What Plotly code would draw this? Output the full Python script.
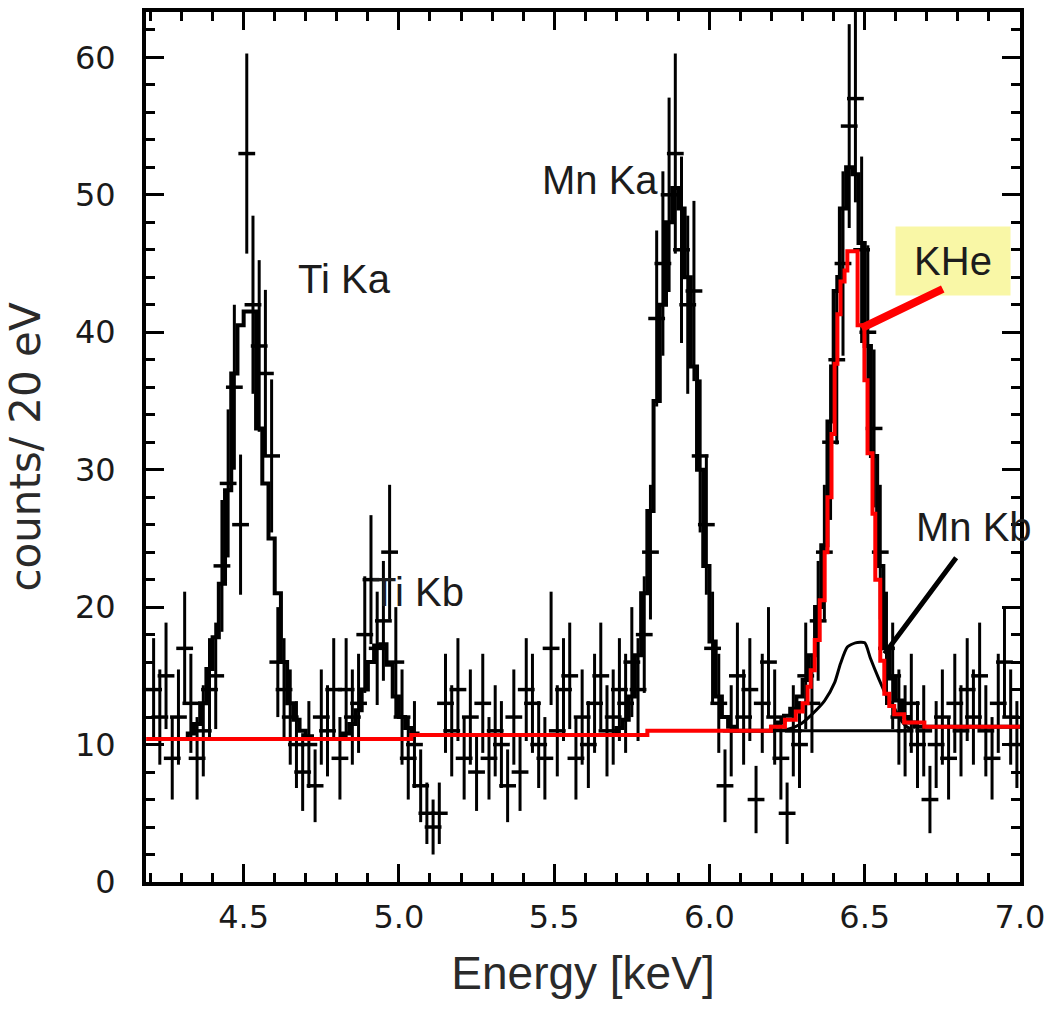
import numpy as np
import plotly.graph_objects as go

# ---------------- data (counts per 20 eV bin, bin centres 4.21 ... 6.99 keV) ----------------
bin_width = 0.02
bin_centers = [round(4.21 + bin_width * i, 2) for i in range(140)]

counts = [
    14, 12, 15, 9, 12, 17, 13, 9, 11, 14,          # 4.21 - 4.39
    15, 23, 29, 36, 26, 53, 42, 39, 37, 31,        # 4.41 - 4.59
    16, 14, 12, 10, 8, 10, 7, 12, 11, 14,          # 4.61 - 4.79
    9, 14, 12, 13, 18, 22, 17, 19, 24, 16,         # 4.81 - 4.99
    12, 9, 10, 7, 5, 4, 5, 13, 11, 14,             # 5.01 - 5.19
    9, 12, 8, 13, 9, 11, 10, 7, 12, 8,             # 5.21 - 5.39
    14, 13, 10, 9, 17, 11, 14, 15, 9, 12,          # 5.41 - 5.59
    10, 13, 15, 11, 12, 14, 13, 16, 14, 18,        # 5.61 - 5.79
    24, 41, 45, 50, 53, 46, 42, 43, 31, 26,        # 5.81 - 5.99
    17, 13, 7, 11, 15, 12, 14, 6, 13, 16,          # 6.01 - 6.19
    12, 9, 5, 11, 10, 15, 13, 19, 24, 32,          # 6.21 - 6.39
    38, 45, 55, 57, 46, 40, 33, 24, 17, 15,        # 6.41 - 6.59
    12, 11, 13, 10, 11, 6, 10, 12, 9, 13,          # 6.61 - 6.79
    11, 14, 12, 15, 11, 9, 13, 16, 12, 10,         # 6.81 - 6.99
]

# total fit (black histogram), same bins
total_fit = [
    10.4, 10.4, 10.4, 10.4, 10.4, 10.4, 10.8, 11.5, 13.0, 15.5,      # 4.21 - 4.39
    17.8, 21.7, 28.5, 37.0, 40.5, 41.5, 41.5, 33.0, 29.0, 25.0,      # 4.41 - 4.59
    21.0, 16.0, 13.0, 11.8, 11.0, 10.6, 10.4, 10.4, 10.4, 10.4,      # 4.61 - 4.79
    10.4, 10.8, 11.5, 12.5, 14.0, 16.0, 17.2, 17.3, 15.8, 13.5,      # 4.81 - 4.99
    12.0, 11.2, 10.8, 10.7, 10.7, 10.7, 10.7, 10.7, 10.7, 10.7,      # 5.01 - 5.19
    10.7, 10.7, 10.7, 10.7, 10.7, 10.7, 10.7, 10.7, 10.7, 10.7,      # 5.21 - 5.39
    10.7, 10.7, 10.7, 10.7, 10.7, 10.7, 10.7, 10.7, 10.7, 10.7,      # 5.41 - 5.59
    10.7, 10.7, 10.7, 10.7, 10.7, 11.2, 11.8, 13.5, 16.5, 21.0,      # 5.61 - 5.79
    27.0, 35.0, 42.0, 48.0, 50.5, 49.0, 44.0, 37.5, 30.0, 23.0,      # 5.81 - 5.99
    17.5, 13.5, 12.0, 11.3, 11.0, 11.0, 11.0, 11.0, 11.0, 11.0,      # 6.01 - 6.19
    11.3, 11.6, 12.1, 12.6, 13.5, 14.7, 16.5, 20.0, 24.5, 33.5,      # 6.21 - 6.39
    43.0, 49.0, 52.0, 51.5, 46.5, 39.0, 31.0, 23.0, 17.0, 14.8,      # 6.41 - 6.59
    13.2, 12.0, 11.6, 11.3, 11.3, 11.3, 11.3, 11.3, 11.3, 11.3,      # 6.61 - 6.79
    11.3, 11.3, 11.3, 11.3, 11.3, 11.3, 11.3, 11.3, 11.3, 11.3,      # 6.81 - 6.99
]

# red fit (KHe line + background), step edges and levels
red_edges = [4.186, 5.04, 5.80, 6.198, 6.243, 6.278, 6.300, 6.316, 6.326, 6.339,
             6.355, 6.371, 6.380, 6.393, 6.403, 6.412, 6.422, 6.435, 6.444, 6.477,
             6.499, 6.509, 6.525, 6.534, 6.550, 6.563, 6.579, 6.595, 6.627, 6.692, 7.0]
red_levels = [10.4, 10.7, 11.0, 11.3, 11.8, 12.4, 13.0, 14.2, 15.4, 17.6,
              20.5, 24.0, 28.0, 32.6, 37.7, 41.3, 43.7, 44.5, 45.9, 40.5,
              36.5, 31.2, 26.8, 22.0, 16.1, 13.7, 12.8, 12.2, 11.6, 11.3, 11.3]

# Mn Kb component (smooth black curve) and its background level
mnkb_energy = [6.20, 6.25, 6.294, 6.33, 6.371, 6.403, 6.422, 6.444, 6.47, 6.50,
               6.518, 6.545, 6.573, 6.595, 6.61, 6.63, 6.65]
mnkb_counts = [11.0, 11.1, 11.5, 12.2, 13.2, 14.5, 15.9, 17.1, 17.4, 17.4,
               16.3, 14.8, 13.4, 12.7, 12.0, 11.4, 11.1]
mnkb_bg_energy = [6.20, 6.62]
mnkb_bg_counts = [11.0, 11.0]

x_ticks = [4.5, 5.0, 5.5, 6.0, 6.5, 7.0]
y_ticks = [0, 10, 20, 30, 40, 50, 60]

# ---------------- figure ----------------
errors = np.sqrt(np.array(counts, dtype=float))
edges = [c - bin_width / 2 for c in bin_centers] + [bin_centers[-1] + bin_width / 2]

fig = go.Figure()

# data points with error bars
fig.add_trace(go.Scatter(
    x=bin_centers, y=counts, mode="markers",
    marker=dict(symbol="line-ew", size=12, color="black",
                line=dict(color="black", width=3.5)),
    error_y=dict(type="data", array=errors, visible=True,
                 thickness=3, width=0, color="black"),
    hoverinfo="x+y", showlegend=False))

# total fit step histogram
fig.add_trace(go.Scatter(
    x=edges, y=total_fit + [total_fit[-1]], mode="lines",
    line=dict(color="black", width=4, shape="hv"), showlegend=False))

# Mn Kb component
fig.add_trace(go.Scatter(
    x=mnkb_energy, y=mnkb_counts, mode="lines",
    line=dict(color="black", width=3, shape="spline", smoothing=0.6), showlegend=False))
fig.add_trace(go.Scatter(
    x=mnkb_bg_energy, y=mnkb_bg_counts, mode="lines",
    line=dict(color="black", width=3), showlegend=False))

# red fit
fig.add_trace(go.Scatter(
    x=red_edges, y=red_levels, mode="lines",
    line=dict(color="#ff0000", width=4, shape="hv"), showlegend=False))

text_font = dict(family="Liberation Sans, Arial, sans-serif", size=40, color="#1c1c1c")

annotations = [
    dict(x=4.824, y=43.9, text="Ti Ka", showarrow=False, font=text_font),
    dict(x=5.062, y=21.1, text="Ti Kb", showarrow=False, font=text_font),
    dict(x=5.646, y=51.1, text="Mn Ka", showarrow=False, font=text_font),
    dict(x=6.852, y=25.8, text="Mn Kb", showarrow=False, font=text_font),
    dict(x=6.785, y=45.2, text="KHe", showarrow=False, font=text_font,
         bgcolor="#f9f7a6", width=112, height=66, borderpad=1),
    # arrows
    dict(x=6.4897, y=40.3, ax=6.756, ay=43.2, axref="x", ayref="y", text="",
         showarrow=True, arrowhead=0, arrowwidth=8, arrowcolor="#ff0000",
         standoff=0, startstandoff=0),
    dict(x=6.564, y=16.6, ax=6.798, ay=23.7, axref="x", ayref="y", text="",
         showarrow=True, arrowhead=0, arrowwidth=5, arrowcolor="black",
         standoff=0, startstandoff=0),
]
for a in annotations:
    a.setdefault("xref", "x")
    a.setdefault("yref", "y")

tick_font = dict(family="DejaVu Sans, sans-serif", size=32, color="#1a1a1a")

fig.update_layout(
    width=1053, height=1017,
    margin=dict(l=146, r=33, t=8, b=135),
    paper_bgcolor="white", plot_bgcolor="white",
    showlegend=False,
    annotations=annotations,
    xaxis=dict(
        range=[4.1855, 7.0], tickvals=x_ticks, ticktext=[f"{v:.1f}" for v in x_ticks],
        ticks="inside", ticklen=18, tickwidth=3, tickcolor="black",
        minor=dict(dtick=0.1, tick0=4.0, ticks="inside", ticklen=9, tickwidth=3, tickcolor="black"),
        showline=True, linewidth=4, linecolor="black", mirror="ticks",
        showgrid=False, zeroline=False,
        tickfont=tick_font, ticklabelstandoff=4,
        title=dict(text="Energy [keV]", standoff=22,
                   font=dict(family="Liberation Sans, Arial, sans-serif", size=46, color="#2a2a2a")),
    ),
    yaxis=dict(
        range=[0, 63.3], tickvals=y_ticks,
        ticks="inside", ticklen=18, tickwidth=3, tickcolor="black",
        minor=dict(dtick=2, tick0=0, ticks="inside", ticklen=9, tickwidth=3, tickcolor="black"),
        showline=True, linewidth=4, linecolor="black", mirror="ticks",
        showgrid=False, zeroline=False,
        tickfont=tick_font, ticklabelstandoff=20,
        title=dict(text="counts/ 20 eV", standoff=22,
                   font=dict(family="DejaVu Sans, sans-serif", size=42, color="#2a2a2a")),
    ),
)

fig.write_html("out.html")
